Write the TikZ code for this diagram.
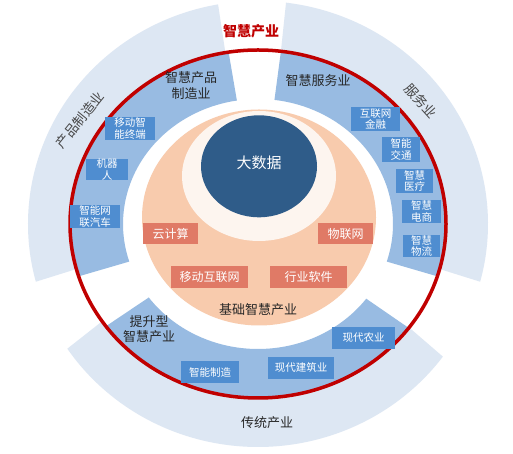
\documentclass[tikz,border=0pt]{standalone}
\usepackage{fontspec}
\newfontfamily\cjk{Noto Sans CJK SC}
\definecolor{lightband}{HTML}{DDE7F3}
\definecolor{midband}{HTML}{98BBE2}
\definecolor{bluebox}{HTML}{4F8DD0}
\definecolor{orangedisk}{HTML}{F8CBAD}
\definecolor{orangebox}{HTML}{E07A66}
\definecolor{paledisk}{HTML}{FDF5EF}
\definecolor{darkdisk}{HTML}{2F5C89}
\definecolor{ringred}{HTML}{C00000}
\definecolor{labeltext}{HTML}{262626}
\newcommand\ringsector[7]{%
  \fill[#1, shift={(C)}] (#2:#4pt and #5pt) arc[start angle=#2,end angle=#3,x radius=#4pt,y radius=#5pt]
    -- (#3:#6pt and #7pt) arc[start angle=#3,end angle=#2,x radius=#6pt,y radius=#7pt] -- cycle;}
\tikzset{
  bbox/.style={fill=bluebox, text=white, inner sep=0pt, align=center,
    font=\cjk\fontsize{10.5}{11.5}\selectfont},
  obox/.style={fill=orangebox, text=white, inner sep=0pt, align=center,
    font=\cjk\fontsize{12}{13}\selectfont},
  lbl/.style={text=labeltext, inner sep=0pt, align=center,
    font=\cjk\fontsize{13}{16}\selectfont},
  arclbl/.style={text=labeltext!85!white, inner sep=0pt,
    font=\cjk\fontsize{13.5}{15}\selectfont},
}
\begin{document}
\begin{tikzpicture}[x=1pt,y=1pt]
\fill[white] (0,0) rectangle (513,454);
\useasboundingbox (0,0) rectangle (513,454);
\coordinate (C) at (258,230);
\coordinate (O) at (259,236.5);
\coordinate (P) at (259,278);
\coordinate (D) at (259,287.7);
% outer light band
\ringsector{lightband}{-15}{83}{188}{174}{230}{223}
\ringsector{lightband}{100}{195}{188}{174}{230}{223}
\ringsector{lightband}{214}{323.5}{188}{174}{230}{223}
% medium band
\ringsector{midband}{-17.5}{83}{135}{125}{188}{174}
\ringsector{midband}{99}{197.5}{135}{125}{188}{174}
\ringsector{midband}{216}{323.3}{135}{125}{188}{174}
% red ring
\draw[ringred, line width=3.5pt] (C) ellipse[x radius=188pt, y radius=174pt];
% core
\fill[orangedisk] (O) ellipse[x radius=117pt, y radius=108pt];
\fill[paledisk] (P) ellipse[x radius=77pt, y radius=65pt];
\fill[darkdisk] (D) ellipse[x radius=58pt, y radius=51pt];
\node[text=white, inner sep=0pt, font=\cjk\fontsize{15}{17}\selectfont] (bigdata) at (259,291) {大数据};
% orange boxes
\node[obox, minimum width=55pt, minimum height=21pt] (cloud) at (170.5,220.5) {云计算};
\node[obox, minimum width=55pt, minimum height=21pt] (iot) at (345.5,220.5) {物联网};
\node[obox, minimum width=77pt, minimum height=22pt] (mobnet) at (209.5,177) {移动互联网};
\node[obox, minimum width=77pt, minimum height=22pt] (software) at (308.5,177) {行业软件};
\node[lbl] (basic) at (258,144) {基础智慧产业};
% blue boxes - left
\node[bbox, minimum width=50pt, minimum height=23pt] (mobterm) at (130,325.5) {移动智\\能终端};
\node[bbox, minimum width=42pt, minimum height=21pt] (robot) at (107,284.5) {机器\\人};
\node[bbox, minimum width=50pt, minimum height=23pt] (car) at (95,237.5) {智能网\\联汽车};
% blue boxes - right
\node[bbox, minimum width=49pt, minimum height=24pt] (finance) at (375.5,335) {互联网\\金融};
\node[bbox, minimum width=38pt, minimum height=25pt] (traffic) at (401,304.5) {智能\\交通};
\node[bbox, minimum width=37pt, minimum height=24pt] (medical) at (414.5,273) {智慧\\医疗};
\node[bbox, minimum width=39pt, minimum height=23pt] (ecom) at (421.5,242.5) {智慧\\电商};
\node[bbox, minimum width=37pt, minimum height=22pt] (logistics) at (421.5,208) {智慧\\物流};
% blue boxes - bottom
\node[bbox, minimum width=58pt, minimum height=22pt] (manuf) at (210,82) {智能制造};
\node[bbox, minimum width=66pt, minimum height=22pt] (build) at (301,86) {现代建筑业};
\node[bbox, minimum width=63pt, minimum height=22pt] (agri) at (363.5,116) {现代农业};
% band labels
\node[lbl] (prodmfg) at (191,368) {智慧产品\\制造业};
\node[lbl] (service) at (318,373) {智慧服务业};
\node[lbl, font=\cjk\fontsize{13}{15.5}\selectfont] (upgrade) at (149,125) {提升型\\智慧产业};
\node[arclbl, rotate=51] (outprod) at (80,334) {产品制造业};
\node[arclbl, rotate=-48] (outserv) at (421,353) {服务业};
\node[lbl] (tradition) at (267,31) {传统产业};
\node[text=ringred, inner sep=0pt, font=\cjk\bfseries\fontsize{14}{16}\selectfont] (smart) at (251,423) {智慧产业};
\end{tikzpicture}
\end{document}
